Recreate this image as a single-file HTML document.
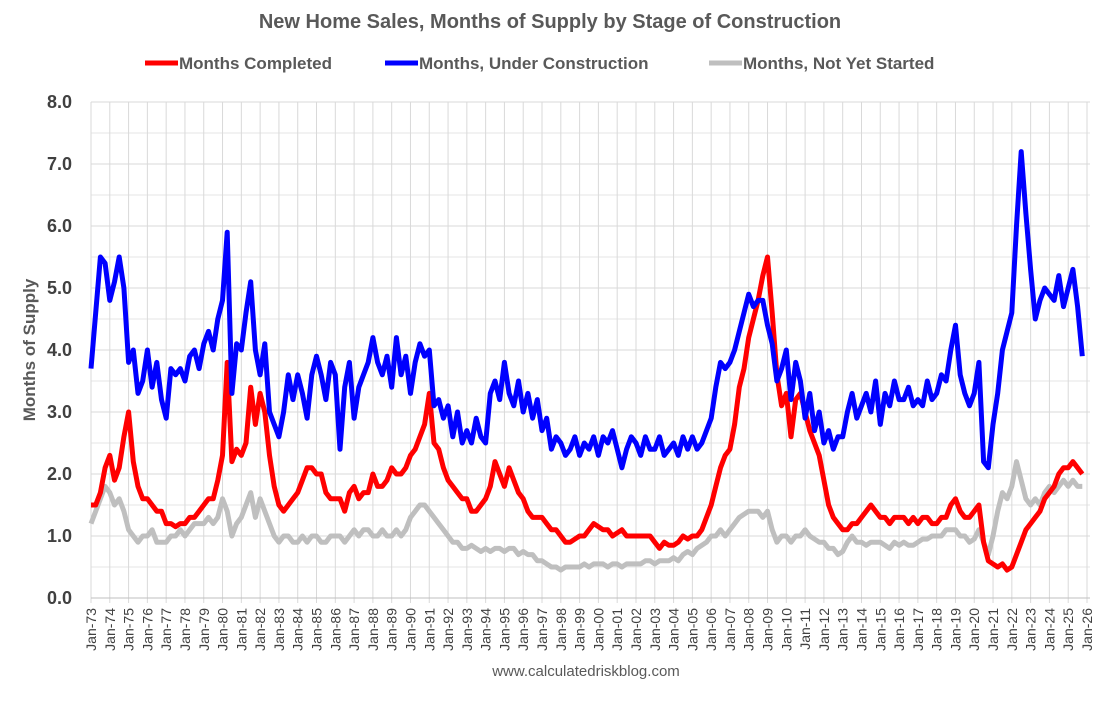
<!DOCTYPE html>
<html><head><meta charset="utf-8"><style>
body{margin:0;background:#fff;font-family:"Liberation Sans",sans-serif;}
</style></head><body>
<svg id="chart" width="1100" height="698" xmlns="http://www.w3.org/2000/svg">
<rect x="0" y="0" width="1100" height="698" fill="#fff"/>
<text x="550" y="28" text-anchor="middle" font-size="20" font-weight="bold" fill="#595959">New Home Sales, Months of Supply by Stage of Construction</text>
<g font-size="17" font-weight="bold" fill="#595959">
 <g><line x1="145" y1="63" x2="178" y2="63" stroke="#ff0000" stroke-width="5"/><text x="179" y="69">Months Completed</text></g>
 <g><line x1="385" y1="63" x2="418" y2="63" stroke="#0000ff" stroke-width="5"/><text x="419" y="69">Months, Under Construction</text></g>
 <g><line x1="709" y1="63" x2="742" y2="63" stroke="#bfbfbf" stroke-width="5"/><text x="743" y="69">Months, Not Yet Started</text></g>
</g>
<text transform="translate(35,350) rotate(-90)" text-anchor="middle" font-size="17" font-weight="bold" fill="#595959">Months of Supply</text>
<text x="586" y="676" text-anchor="middle" font-size="15" fill="#595959">www.calculatedriskblog.com</text>
<g id="grid"></g><g id="series"></g><g id="axes"></g>
</svg>
<script>
const yTicks=[0,1,2,3,4,5,6,7,8];
const startYear=1973, endYear=2026;
const blue=[3.7,4.6,5.5,5.4,4.8,5.1,5.5,5.0,3.8,4.0,3.3,3.5,4.0,3.4,3.8,3.2,2.9,3.7,3.6,3.7,3.5,3.9,4.0,3.7,4.1,4.3,4.0,4.5,4.8,5.9,3.3,4.1,4.0,4.6,5.1,4.0,3.6,4.1,3.0,2.8,2.6,3.0,3.6,3.2,3.6,3.3,2.9,3.6,3.9,3.6,3.2,3.8,3.6,2.4,3.4,3.8,2.9,3.4,3.6,3.8,4.2,3.8,3.6,3.9,3.4,4.2,3.6,3.9,3.3,3.8,4.1,3.9,4.0,3.1,3.2,2.9,3.1,2.6,3.0,2.5,2.7,2.5,2.9,2.6,2.5,3.3,3.5,3.2,3.8,3.3,3.1,3.5,3.0,3.3,2.9,3.2,2.7,2.9,2.4,2.6,2.5,2.3,2.4,2.6,2.3,2.5,2.4,2.6,2.3,2.6,2.5,2.7,2.4,2.1,2.4,2.6,2.5,2.3,2.6,2.4,2.4,2.6,2.3,2.4,2.5,2.3,2.6,2.4,2.6,2.4,2.5,2.7,2.9,3.4,3.8,3.7,3.8,4.0,4.3,4.6,4.9,4.7,4.8,4.8,4.4,4.1,3.5,3.7,4.0,3.2,3.8,3.5,2.9,3.3,2.7,3.0,2.5,2.7,2.4,2.6,2.6,3.0,3.3,2.9,3.1,3.3,3.0,3.5,2.8,3.3,3.1,3.5,3.2,3.2,3.4,3.1,3.2,3.1,3.5,3.2,3.3,3.6,3.5,4.0,4.4,3.6,3.3,3.1,3.3,3.8,2.2,2.1,2.8,3.3,4.0,4.3,4.6,6.0,7.2,6.2,5.3,4.5,4.8,5.0,4.9,4.8,5.2,4.7,5.0,5.3,4.7,3.9];
const red=[1.5,1.5,1.7,2.1,2.3,1.9,2.1,2.6,3.0,2.2,1.8,1.6,1.6,1.5,1.4,1.4,1.2,1.2,1.15,1.2,1.2,1.3,1.3,1.4,1.5,1.6,1.6,1.9,2.3,3.8,2.2,2.4,2.3,2.5,3.4,2.8,3.3,3.0,2.3,1.8,1.5,1.4,1.5,1.6,1.7,1.9,2.1,2.1,2.0,2.0,1.7,1.6,1.6,1.6,1.4,1.7,1.8,1.6,1.7,1.7,2.0,1.8,1.8,1.9,2.1,2.0,2.0,2.1,2.3,2.4,2.6,2.8,3.3,2.5,2.4,2.1,1.9,1.8,1.7,1.6,1.6,1.4,1.4,1.5,1.6,1.8,2.2,2.0,1.8,2.1,1.9,1.7,1.6,1.4,1.3,1.3,1.3,1.2,1.1,1.1,1.0,0.9,0.9,0.95,1.0,1.0,1.1,1.2,1.15,1.1,1.1,1.0,1.05,1.1,1.0,1.0,1.0,1.0,1.0,1.0,0.9,0.8,0.9,0.85,0.85,0.9,1.0,0.95,1.0,1.0,1.1,1.3,1.5,1.8,2.1,2.3,2.4,2.8,3.4,3.7,4.2,4.5,4.8,5.2,5.5,4.6,3.6,3.1,3.3,2.6,3.2,3.3,3.0,2.7,2.5,2.3,1.9,1.5,1.3,1.2,1.1,1.1,1.2,1.2,1.3,1.4,1.5,1.4,1.3,1.3,1.2,1.3,1.3,1.3,1.2,1.3,1.2,1.3,1.3,1.2,1.2,1.3,1.3,1.5,1.6,1.4,1.3,1.3,1.4,1.5,0.9,0.6,0.55,0.5,0.55,0.45,0.5,0.7,0.9,1.1,1.2,1.3,1.4,1.6,1.7,1.8,2.0,2.1,2.1,2.2,2.1,2.0];
const grey=[1.2,1.4,1.6,1.8,1.7,1.5,1.6,1.4,1.1,1.0,0.9,1.0,1.0,1.1,0.9,0.9,0.9,1.0,1.0,1.1,1.0,1.1,1.2,1.2,1.2,1.3,1.2,1.3,1.6,1.4,1.0,1.2,1.3,1.5,1.7,1.3,1.6,1.4,1.2,1.0,0.9,1.0,1.0,0.9,0.9,1.0,0.9,1.0,1.0,0.9,0.9,1.0,1.0,1.0,0.9,1.0,1.1,1.0,1.1,1.1,1.0,1.0,1.1,1.0,1.0,1.1,1.0,1.1,1.3,1.4,1.5,1.5,1.4,1.3,1.2,1.1,1.0,0.9,0.9,0.8,0.8,0.85,0.8,0.75,0.8,0.75,0.8,0.8,0.75,0.8,0.8,0.7,0.75,0.7,0.7,0.6,0.6,0.55,0.5,0.5,0.45,0.5,0.5,0.5,0.5,0.55,0.5,0.55,0.55,0.55,0.5,0.55,0.55,0.5,0.55,0.55,0.55,0.55,0.6,0.6,0.55,0.6,0.6,0.6,0.65,0.6,0.7,0.75,0.7,0.8,0.85,0.9,1.0,1.0,1.1,1.0,1.1,1.2,1.3,1.35,1.4,1.4,1.4,1.3,1.4,1.1,0.9,1.0,1.0,0.9,1.0,1.0,1.1,1.0,0.95,0.9,0.9,0.8,0.8,0.7,0.75,0.9,1.0,0.9,0.9,0.85,0.9,0.9,0.9,0.85,0.8,0.9,0.85,0.9,0.85,0.85,0.9,0.95,0.95,1.0,1.0,1.0,1.1,1.1,1.1,1.0,1.0,0.9,0.95,1.1,0.9,0.7,1.0,1.4,1.7,1.6,1.8,2.2,1.9,1.6,1.5,1.6,1.5,1.7,1.8,1.7,1.8,1.9,1.8,1.9,1.8,1.8];
const NS="http://www.w3.org/2000/svg";
const L=91,R=1087,T=102,B=598;
const xs=y=>L+(y-startYear)/(endYear-startYear)*(R-L);
const ys=v=>B-v/8*(B-T);
const grid=document.getElementById('grid'),axes=document.getElementById('axes'),ser=document.getElementById('series');
function mk(tag,attrs,parent){const e=document.createElementNS(NS,tag);for(const k in attrs)e.setAttribute(k,attrs[k]);parent.appendChild(e);return e;}
for(let h=0.5;h<8;h+=1){
 const g=mk('line',{x1:L,x2:R+3,y1:ys(h),y2:ys(h),stroke:'#e6e6e6','stroke-width':1},grid);
 
 
}
for(const t of yTicks){
 const g=mk('line',{x1:L,x2:R+3,y1:ys(t),y2:ys(t),stroke:'#d9d9d9','stroke-width':1},grid);
 
 
 const tx=mk('text',{x:72,y:ys(t)+6,'text-anchor':'end','font-size':18,'font-weight':'bold',fill:'#404040'},axes);
 tx.textContent=t.toFixed(1);
 
 
}
for(let y=startYear;y<=endYear;y++){
 const g=mk('line',{x1:xs(y),x2:xs(y),y1:T,y2:B+5,stroke:'#d9d9d9','stroke-width':1},grid);
 
 
 const lab='Jan-'+String(y%100).padStart(2,'0');
 const tx=mk('text',{transform:`translate(${xs(y)+5},608) rotate(-90)`,'text-anchor':'end','font-size':14,fill:'#404040'},axes);
 tx.textContent=lab;
 
 
}
const ax=mk('line',{x1:L,x2:R+3,y1:B,y2:B,stroke:'#bfbfbf','stroke-width':1},axes);


function draw(arr,color,name){
 const pts=arr.map((v,i)=>xs(startYear+i*0.25).toFixed(1)+','+ys(v).toFixed(1)).join(' ');
 const p=mk('polyline',{points:pts,fill:'none',stroke:color,'stroke-width':5,'stroke-linejoin':'round'},ser);
 
 
}
draw(grey,'#bfbfbf','series-not-yet-started');
draw(red,'#ff0000','series-completed');
draw(blue,'#0000ff','series-under-construction');
</script>
</body></html>
